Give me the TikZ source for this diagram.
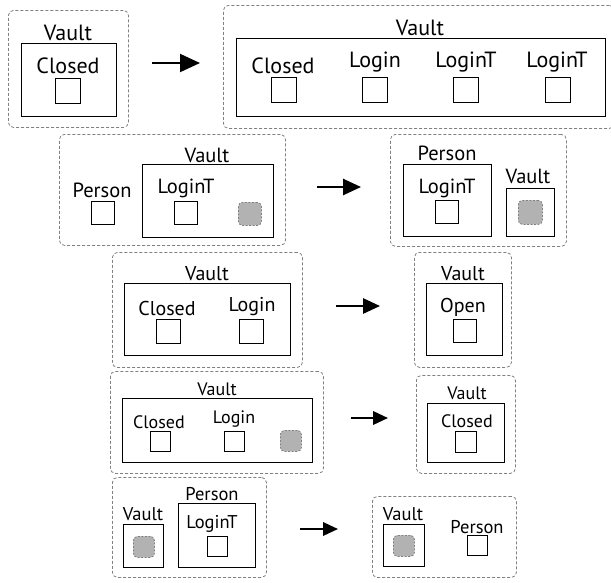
\documentclass[tikz,border=0pt]{standalone}
\usepackage{fontspec}
\setmainfont{PT Sans}
\usetikzlibrary{arrows.meta}

\begin{document}
\begin{tikzpicture}[
    x=1pt, y=-1pt,
    outer/.style={draw=gray, dash pattern=on 3pt off 2pt, line width=0.8pt, rounded corners=5pt, inner sep=0pt, anchor=north west},
    box/.style={draw=black, line width=1.2pt, inner sep=0pt, anchor=north west},
    slot/.style={draw=black, line width=1pt, inner sep=0pt, anchor=north west, minimum size=#1},
    hole/.style={draw=gray, dash pattern=on 2pt off 1.5pt, line width=0.8pt, fill=gray!60, rounded corners=4pt, inner sep=0pt, anchor=north west, minimum size=#1},
    lbl/.style={anchor=base, inner sep=0pt},
    arrow/.style={line width=2pt, -{Triangle[length=#1, width=0.9*#1]}}
]
\useasboundingbox (0,0) rectangle (611,582);

% row 1
\begin{scope}[font=\fontsize{22}{26}\selectfont]
\node[outer, minimum width=120pt, minimum height=117pt] (outerA) at (8,10) {};
\node[box, minimum width=95pt, minimum height=73pt] (vaultA) at (21,43) {};
\node[lbl] (vaultAlbl) at (68,40) {Vault};
\node[lbl] (closedA) at (68,73) {Closed};
\node[slot=25pt] (closedAslot) at (55,78) {};
\coordinate (arrowAs) at (152,63);
\coordinate (arrowAe) at (200,63);
\draw[arrow=20pt] (arrowAs) -- (arrowAe);
\node[outer, minimum width=391pt, minimum height=123pt] (outerB) at (223,5) {};
\node[box, minimum width=369pt, minimum height=78pt] (vaultB) at (236,38) {};
\node[lbl] (vaultBlbl) at (420,35) {Vault};
\node[lbl] (closedB) at (283,73) {Closed};
\node[slot=25pt] (closedBslot) at (271,77) {};
\node[lbl] (loginB) at (375,67) {Login};
\node[slot=25pt] (loginBslot) at (362,77) {};
\node[lbl] (logintB) at (466,67) {LoginT};
\node[slot=25pt] (logintBslot) at (453,77) {};
\node[lbl] (logintBB) at (557,67) {LoginT};
\node[slot=25pt] (logintBBslot) at (545,77) {};
\end{scope}

% row 2
\begin{scope}[font=\fontsize{20.5}{24}\selectfont]
\node[outer, minimum width=226pt, minimum height=111pt] (outerC) at (59,134) {};
\node[lbl] (personC) at (102,197) {Person};
\node[slot=23pt] (personCslot) at (91,201) {};
\node[box, minimum width=131pt, minimum height=73pt] (vaultC) at (142,164) {};
\node[lbl] (vaultClbl) at (207,162) {Vault};
\node[lbl] (logintC) at (186,193) {LoginT};
\node[slot=23pt] (logintCslot) at (174,201) {};
\node[hole=23pt] (holeC) at (238,202) {};
\coordinate (arrowCs) at (317,187);
\coordinate (arrowCe) at (361,187);
\draw[arrow=18pt] (arrowCs) -- (arrowCe);
\node[outer, minimum width=176pt, minimum height=112pt] (outerD) at (390,134) {};
\node[box, minimum width=88pt, minimum height=72pt] (personD) at (403,164) {};
\node[lbl] (personDlbl) at (447,160) {Person};
\node[lbl] (logintD) at (447,193) {LoginT};
\node[slot=23pt] (logintDslot) at (435,200) {};
\node[box, minimum width=48pt, minimum height=48pt] (vaultD) at (506,188) {};
\node[lbl] (vaultDlbl) at (528,183) {Vault};
\node[hole=24pt] (holeD) at (518,200) {};
\end{scope}

% row 3
\begin{scope}[font=\fontsize{20}{24}\selectfont]
\node[outer, minimum width=190pt, minimum height=115pt] (outerE) at (112,252) {};
\node[box, minimum width=166pt, minimum height=72pt] (vaultE) at (124,283) {};
\node[lbl] (vaultElbl) at (207,280) {Vault};
\node[lbl] (closedE) at (167,315) {Closed};
\node[slot=24pt] (closedEslot) at (156,319) {};
\node[lbl] (loginE) at (252,311) {Login};
\node[slot=24pt] (loginEslot) at (239,319) {};
\coordinate (arrowEs) at (336,306);
\coordinate (arrowEe) at (380,306);
\draw[arrow=17pt] (arrowEs) -- (arrowEe);
\node[outer, minimum width=97pt, minimum height=115pt] (outerF) at (414,252) {};
\node[box, minimum width=76pt, minimum height=72pt] (vaultF) at (426,283) {};
\node[lbl] (vaultFlbl) at (463,280) {Vault};
\node[lbl] (openF) at (463,312) {Open};
\node[slot=23pt] (openFslot) at (453,319) {};
\end{scope}

% row 4
\begin{scope}[font=\fontsize{18}{22}\selectfont]
\node[outer, minimum width=213pt, minimum height=102pt] (outerG) at (110,371) {};
\node[box, minimum width=190pt, minimum height=64pt] (vaultG) at (122,398) {};
\node[lbl] (vaultGlbl) at (217,395) {Vault};
\node[lbl] (closedG) at (159,428) {Closed};
\node[slot=20pt] (closedGslot) at (150,431) {};
\node[lbl] (loginG) at (234,423) {Login};
\node[slot=20pt] (loginGslot) at (224,431) {};
\node[hole=21pt] (holeG) at (280,430) {};
\coordinate (arrowGs) at (351,418);
\coordinate (arrowGe) at (388,418);
\draw[arrow=15pt] (arrowGs) -- (arrowGe);
\node[outer, minimum width=99pt, minimum height=98pt] (outerH) at (416,375) {};
\node[box, minimum width=77pt, minimum height=59pt] (vaultH) at (427,403) {};
\node[lbl] (vaultHlbl) at (467,399) {Vault};
\node[lbl] (closedH) at (467,427) {Closed};
\node[slot=21pt] (closedHslot) at (455,431) {};
\end{scope}

% row 5
\begin{scope}[font=\fontsize{18.5}{22}\selectfont]
\node[outer, minimum width=154pt, minimum height=100pt] (outerI) at (112,477) {};
\node[box, minimum width=40pt, minimum height=43pt] (vaultI) at (123,524) {};
\node[lbl] (vaultIlbl) at (143,520) {Vault};
\node[hole=21pt] (holeI) at (133,536) {};
\node[box, minimum width=77pt, minimum height=64pt] (personI) at (178,503) {};
\node[lbl] (personIlbl) at (212,500) {Person};
\node[lbl] (logintI) at (212,528) {LoginT};
\node[slot=20pt] (logintIslot) at (207,536) {};
\coordinate (arrowIs) at (300,529);
\coordinate (arrowIe) at (338,529);
\draw[arrow=15pt] (arrowIs) -- (arrowIe);
\node[outer, minimum width=144pt, minimum height=81pt] (outerJ) at (372,496) {};
\node[box, minimum width=41pt, minimum height=42pt] (vaultJ) at (383,524) {};
\node[lbl] (vaultJlbl) at (403,520) {Vault};
\node[hole=21pt] (holeJ) at (393,535) {};
\node[lbl] (personJ) at (477,533) {Person};
\node[slot=20pt] (personJslot) at (467,535) {};
\end{scope}
\end{tikzpicture}
\end{document}
